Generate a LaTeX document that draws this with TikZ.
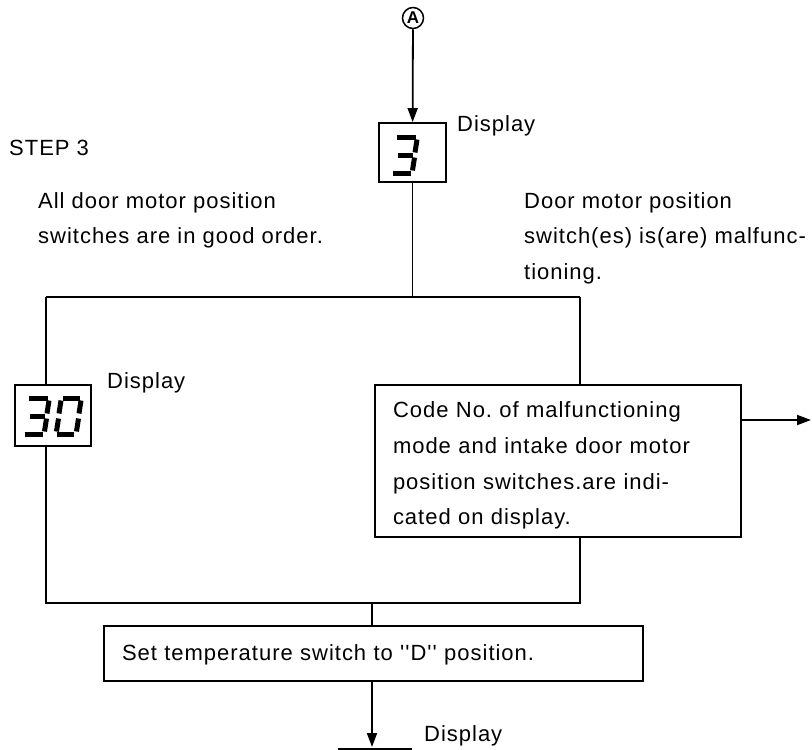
\documentclass[tikz,border=0pt]{standalone}
\usepackage{fontspec}
\setmainfont{Liberation Sans}[LetterSpace=4.5, Ligatures=TeXOff]
\frenchspacing
\usetikzlibrary{arrows.meta}
\tikzset{
  ln/.style={line width=1.8pt, black},
  arr/.style={ln, -{Triangle[length=14pt,width=10pt]}},
  boxnode/.style={draw, line width=1.8pt, rectangle, inner sep=0pt},
  txt/.style={inner sep=0pt, font=\fontsize{22}{35.5}\selectfont},
  mtxt/.style={txt, align=left, anchor=north west},
  seg/.style={line width=5pt, line cap=butt},
  dthree/.pic={
    \draw[seg] (-9,-18) -- (10.5,-18);
    \draw[seg] (11.5,-15.5) -- (9.5,-2.5);
    \draw[seg] (-8,0) -- (7.5,0);
    \draw[seg] (9,2.5) -- (7,15.5);
    \draw[seg] (-13,18) -- (5.5,18);
  },
  dzero/.pic={
    \draw[seg] (-6.5,-18) -- (10.5,-18);
    \draw[seg] (-8.5,-15.5) -- (-10.5,-2.5);
    \draw[seg] (11.5,-15.5) -- (9.5,-2.5);
    \draw[seg] (-11,2.5) -- (-13,15.5);
    \draw[seg] (9,2.5) -- (7,15.5);
    \draw[seg] (-13,18) -- (4,18);
  }
}
\begin{document}
\begin{tikzpicture}[x=1pt,y=-1pt]
\useasboundingbox (0,0) rectangle (812,750);
\fill[white] (0,0) rectangle (812,750);

% nodes
\node[circle, draw, line width=1.5pt, inner sep=0pt, minimum size=21pt,
      font=\fontsize{17}{17}\selectfont\bfseries] (A) at (413,18) {A};
\node[boxnode, minimum width=67pt, minimum height=59pt] (d3) at (412.5,152.5) {};
\pic at (405.5,155) {dthree};
\node[boxnode, minimum width=76pt, minimum height=61pt] (d30) at (53,415.5) {};
\pic at (37.5,416) {dthree};
\pic at (69.5,416) {dzero};
\node[boxnode, minimum width=366pt, minimum height=152pt, text width=330pt,
      align=left, inner xsep=18pt, font=\fontsize{22}{35.7}\selectfont] (code) at (558,461)
  {\strut Code No. of malfunctioning\\mode and intake door motor\\position switches.are indi-\\cated on display.};
\node[boxnode, minimum width=539pt, minimum height=55pt, text width=503pt,
      align=left, inner xsep=17pt, font=\fontsize{22}{35.7}\selectfont] (set) at (373.5,653.5)
  {\strut Set temperature switch to ''D'' position.};

% texts
\node[txt, anchor=base west] (step) at (9,155) {STEP 3};
\node[mtxt] (lefttxt) at (38,183) {\strut All door motor position\\switches are in good order.};
\node[mtxt] (righttxt) at (524,183) {\strut Door motor position\\switch(es) is(are) malfunc-\\tioning.};
\node[txt, anchor=base west] (disp1) at (457,131) {Display};
\node[txt, anchor=base west] (disp2) at (107,388) {Display};
\node[txt, anchor=base west] (disp3) at (424,741) {Display};

% junctions
\coordinate (j1) at (412.5,297);
\coordinate (L1) at (46,297);
\coordinate (R1) at (580,297);
\coordinate (L2) at (46,603);
\coordinate (R2) at (580,603);
\coordinate (j2) at (372,603);
\coordinate (o) at (811,420);
\coordinate (e) at (372,747);
\coordinate (nb1) at (338,749);
\coordinate (nb2) at (412,749);

% connectors
\draw[arr] (A) -- (d3);
\draw[ln] (d3) -- (j1);
\draw[ln] (L1) -- (R1);
\draw[ln] (L1) -- (L1 |- d30.north);
\draw[ln] (R1) -- (R1 |- code.north);
\draw[arr] (code.east |- o) -- (o);
\draw[ln] (L1 |- d30.south) -- (L2) -- (R2) -- (R1 |- code.south);
\draw[ln] (j2) -- (j2 |- set.north);
\draw[arr] (j2 |- set.south) -- (e);
\draw[ln] (nb1) -- (nb2);
\end{tikzpicture}
\end{document}
